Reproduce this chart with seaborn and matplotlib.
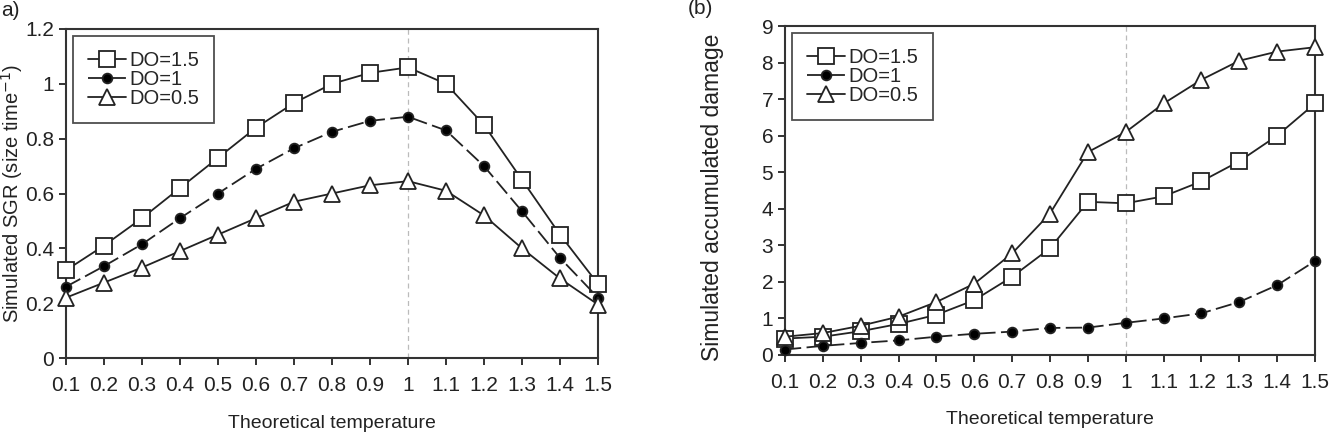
import numpy as np
import pandas as pd
import seaborn as sns
from matplotlib import pyplot as plt
from matplotlib.ticker import FuncFormatter

sns.set_style('ticks')
plt.rcParams['font.family'] = ['Liberation Sans', 'DejaVu Sans']

temps = [0.1, 0.2, 0.3, 0.4, 0.5, 0.6, 0.7, 0.8, 0.9, 1.0, 1.1, 1.2, 1.3, 1.4, 1.5]
labels = ['DO=1.5', 'DO=1', 'DO=0.5']

# panel a: simulated SGR
sgr_do15 = [0.32, 0.41, 0.51, 0.62, 0.73, 0.84, 0.93, 1.0, 1.04, 1.06, 1.0, 0.85, 0.65, 0.45, 0.27]
sgr_do1 = [0.26, 0.335, 0.415, 0.51, 0.60, 0.69, 0.765, 0.825, 0.865, 0.88, 0.83, 0.70, 0.535, 0.365, 0.22]
sgr_do05 = [0.22, 0.275, 0.33, 0.39, 0.45, 0.51, 0.57, 0.60, 0.63, 0.645, 0.61, 0.52, 0.40, 0.29, 0.195]

# panel b: simulated accumulated damage
dmg_do15 = [0.45, 0.5, 0.65, 0.85, 1.1, 1.5, 2.14, 2.92, 4.19, 4.15, 4.34, 4.75, 5.3, 6.0, 6.88]
dmg_do1 = [0.15, 0.25, 0.33, 0.4, 0.5, 0.58, 0.64, 0.74, 0.75, 0.88, 1.0, 1.14, 1.45, 1.91, 2.57]
dmg_do05 = [0.5, 0.6, 0.8, 1.05, 1.45, 1.95, 2.78, 3.87, 5.55, 6.1, 6.88, 7.53, 8.05, 8.3, 8.42]

styles = [
    dict(marker='s', markersize=11, markerfacecolor='white', linestyle='-'),
    dict(marker='o', markersize=7, markerfacecolor='black', linestyle=(0, (9, 3))),
    dict(marker='^', markersize=12, markerfacecolor='white', linestyle='-'),
]

fig = plt.figure(figsize=(13.34, 4.37), dpi=100)
ax1 = fig.add_axes([66 / 1334, 1 - 358 / 437, 532 / 1334, 329 / 437])
ax2 = fig.add_axes([785 / 1334, 1 - 355 / 437, 530 / 1334, 329 / 437])

fmt = FuncFormatter(lambda v, p: '{:g}'.format(round(v, 2)))


def draw(ax, series, ymax, ystep, ylabel, ylabel_size):
    for vals, lab, st in zip(series, labels, styles):
        df = pd.DataFrame({'t': temps, 'v': vals})
        sns.lineplot(data=df, x='t', y='v', ax=ax, color='#222222', linewidth=1.3,
                     markeredgecolor='#222222', markeredgewidth=1.3, label=lab,
                     zorder=3, **st)
    ax.axvline(1.0, color='#bbbbbb', linestyle=(0, (4, 3)), linewidth=0.9, zorder=1)
    ax.set_xlim(0.1, 1.5)
    ax.set_ylim(0, ymax)
    ax.set_xticks(temps)
    ax.set_yticks(np.arange(0, ymax + 1e-9, ystep))
    ax.xaxis.set_major_formatter(fmt)
    ax.yaxis.set_major_formatter(fmt)
    ax.tick_params(direction='out', length=5, width=1.3, labelsize=15, colors='#222222')
    ax.tick_params(axis='x', pad=8)
    for s in ax.spines.values():
        s.set_linewidth(1.5)
        s.set_color('#333333')
    ax.set_xlabel('Theoretical temperature', fontsize=14, color='#222222', labelpad=14)
    ax.set_ylabel(ylabel, fontsize=ylabel_size, color='#222222')
    for ln in ax.get_lines():
        ln.set_clip_on(False)
    leg = ax.legend(loc='upper left', fontsize=14.5, frameon=True, fancybox=False,
                    edgecolor='#222222', handlelength=1.9, handletextpad=0.15,
                    borderpad=0.75, labelspacing=0.0, borderaxespad=0.35)
    leg.get_frame().set_linewidth(1.3)


draw(ax1, [sgr_do15, sgr_do1, sgr_do05], 1.2, 0.2, 'Simulated SGR (size time$^{-1}$)', 14.5)
draw(ax2, [dmg_do15, dmg_do1, dmg_do05], 9, 1, 'Simulated accumulated damage', 16.5)

# keep the panel a label fully inside the image, just left of the tick labels
ax1.yaxis.set_label_coords((25 - 66) / 532, 0.5)
ax2.yaxis.set_label_coords((724 - 785) / 530, 0.48)

fig.text(1 / 1334, 1 - 10 / 437, 'a)', fontsize=15, va='center', ha='left', color='#222222')
fig.text(688 / 1334, 1 - 8 / 437, '(b)', fontsize=15, va='center', ha='left', color='#222222')

fig.savefig('out.png', dpi=100)
